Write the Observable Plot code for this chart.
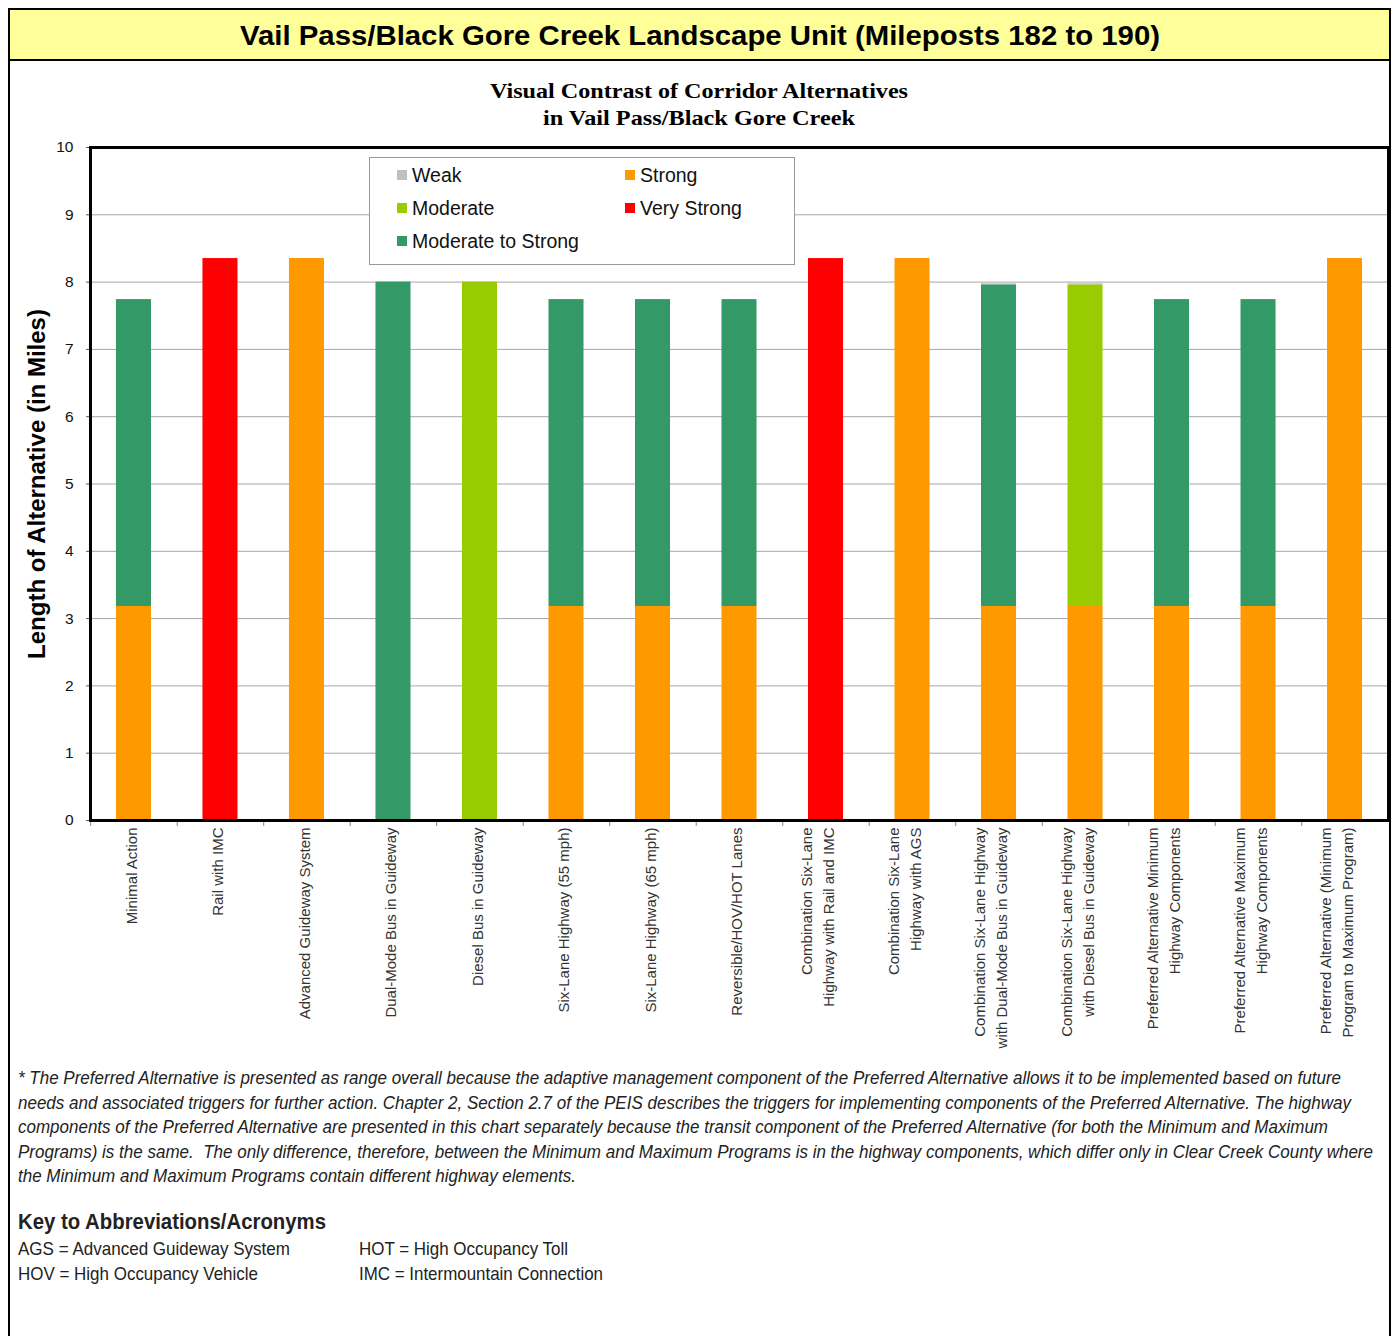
<!DOCTYPE html>
<html>
<head>
<meta charset="utf-8">
<script src="https://cdn.jsdelivr.net/npm/d3@7"></script>
<script src="https://cdn.jsdelivr.net/npm/@observablehq/plot@0.6"></script>
<style>
  html, body { margin: 0; padding: 0; background: #fff; }
  body { width: 1395px; height: 1336px; position: relative; overflow: hidden; font-family: "Liberation Sans", Arial, sans-serif; }
  #outer { position: absolute; left: 8px; top: 8px; width: 1379px; height: 1400px; border: 2px solid #000; box-sizing: content-box; }
  #titlebar { position: absolute; left: 10px; top: 10px; width: 1379px; height: 49px; background: #ffff99; border-bottom: 2px solid #000; }
  .fit { position: absolute; display: inline-block; white-space: pre; line-height: 1; transform-origin: 0 0; }
  #chart { position: absolute; left: 0; top: 140px; }
  #legend { position: absolute; left: 369px; top: 157px; width: 424px; height: 106px; background: #fff; border: 1px solid #9a9a9a; }
  .li { position: absolute; font-size: 19.5px; color: #111; white-space: pre; line-height: 1; }
  .sw { position: absolute; width: 10px; height: 10px; }
</style>
</head>
<body>
<div id="outer"></div>
<div id="titlebar"></div>
<div id="chart"></div>
<div id="legend"></div>
<div id="texts"></div>
<script>
// ---------- data ----------
const alternatives = [
  "Minimal Action",
  "Rail with IMC",
  "Advanced Guideway System",
  "Dual-Mode Bus in Guideway",
  "Diesel Bus in Guideway",
  "Six-Lane Highway (55 mph)",
  "Six-Lane Highway (65 mph)",
  "Reversible/HOV/HOT Lanes",
  "Combination Six-Lane\nHighway with Rail and IMC",
  "Combination Six-Lane\nHighway with AGS",
  "Combination Six-Lane Highway\nwith Dual-Mode Bus in Guideway",
  "Combination Six-Lane Highway\nwith Diesel Bus in Guideway",
  "Preferred Alternative Minimum\nHighway Components",
  "Preferred Alternative Maximum\nHighway Components",
  "Preferred Alternative (Minimum\nProgram to Maximum Program)"
];
const levels = ["Strong", "Very Strong", "Moderate to Strong", "Moderate", "Weak"];
const levelColors = ["#ff9900", "#ff0000", "#339966", "#99cc00", "#c0c0c0"];
const strong       = [3.18, 0, 8.35, 0, 0, 3.18, 3.18, 3.18, 0, 8.35, 3.18, 3.18, 3.18, 3.18, 8.35];
const veryStrong   = [0, 8.35, 0, 0, 0, 0, 0, 0, 8.35, 0, 0, 0, 0, 0, 0];
const modToStrong  = [4.56, 0, 0, 8.0, 0, 4.56, 4.56, 4.56, 0, 0, 4.78, 0, 4.56, 4.56, 0];
const moderate     = [0, 0, 0, 0, 8.0, 0, 0, 0, 0, 0, 0, 4.78, 0, 0, 0];
const weak         = [0, 0, 0, 0, 0, 0, 0, 0, 0, 0, 0.015, 0.015, 0, 0, 0];
const yTicks = [0, 1, 2, 3, 4, 5, 6, 7, 8, 9, 10];
const legendOrder = ["Weak", "Strong", "Moderate", "Very Strong", "Moderate to Strong"];

const titleText = "Vail Pass/Black Gore Creek Landscape Unit (Mileposts 182 to 190)";
const subtitle1 = "Visual Contrast of Corridor Alternatives";
const subtitle2 = "in Vail Pass/Black Gore Creek";
const yLabel = "Length of Alternative (in Miles)";
const footLines = [
  "* The Preferred Alternative is presented as range overall because the adaptive management component of the Preferred Alternative allows it to be implemented based on future",
  "needs and associated triggers for further action. Chapter 2, Section 2.7 of the PEIS describes the triggers for implementing components of the Preferred Alternative. The highway",
  "components of the Preferred Alternative are presented in this chart separately because the transit component of the Preferred Alternative (for both the Minimum and Maximum",
  "Programs) is the same.  The only difference, therefore, between the Minimum and Maximum Programs is in the highway components, which differ only in Clear Creek County where",
  "the Minimum and Maximum Programs contain different highway elements."
];
const keyTitle = "Key to Abbreviations/Acronyms";
const keyItems = ["AGS = Advanced Guideway System", "HOT = High Occupancy Toll", "HOV = High Occupancy Vehicle", "IMC = Intermountain Connection"];

// ---------- build rows ----------
const seriesByLevel = {"Strong": strong, "Very Strong": veryStrong, "Moderate to Strong": modToStrong, "Moderate": moderate, "Weak": weak};
const rows = [];
alternatives.forEach((alt, i) => {
  levels.forEach(lv => {
    const v = seriesByLevel[lv][i];
    if (v > 0) rows.push({alt, level: lv, value: v});
  });
});

// ---------- plot ----------
const W = 1395, H = 920, mL = 90, mR = 7, mT = 7, mB = 240;
const step = (W - mL - mR) / alternatives.length;
const multi = alternatives.filter(a => a.includes("\n"));
const single = alternatives.filter(a => !a.includes("\n"));

const chart = Plot.plot({
  width: W, height: H,
  marginLeft: mL, marginRight: mR, marginTop: mT, marginBottom: mB,
  style: {fontFamily: "'Liberation Sans', Arial, sans-serif", fontSize: "15px", background: "transparent", overflow: "visible"},
  x: {domain: alternatives, paddingInner: 0.595, paddingOuter: 0.3, round: false, axis: null},
  y: {domain: [0, 10], axis: null},
  color: {domain: levels, range: levelColors},
  marks: [
    Plot.gridY(yTicks.slice(1, -1), {stroke: "#a6a6a6", strokeOpacity: 1, strokeWidth: 1}),
    Plot.barY(rows, {x: "alt", y: "value", fill: "level", order: null}),
    Plot.axisY({ticks: yTicks, tickSize: 4, tickFormat: () => "", label: null, stroke: "#555"}),
    Plot.text(yTicks, {y: d => d, text: d => String(d), frameAnchor: "left", textAnchor: "end", dx: -17, fontSize: 15.5, fill: "#111"}),
    Plot.axisX({anchor: "bottom", tickSize: 6, tickFormat: () => "", dx: -step / 2, stroke: "#888", label: null}),
    Plot.text(single, {x: d => d, text: d => d, frameAnchor: "bottom", rotate: -90, textAnchor: "end", lineAnchor: "middle", dy: 7, dx: -2, fontSize: 15, fill: "#333"}),
    Plot.text(multi, {x: d => d, text: d => d, frameAnchor: "bottom", rotate: -90, textAnchor: "end", lineAnchor: "middle", lineHeight: 1.47, dy: 7, dx: -10, fontSize: 15, fill: "#333"}),
    Plot.text([yLabel], {text: d => d, frameAnchor: "left", textAnchor: "middle", lineAnchor: "middle", rotate: -90, dx: -53, fontSize: 24, fontWeight: "bold", fill: "#000"}),
    Plot.frame({stroke: "#000", strokeWidth: 3})
  ]
});
document.getElementById("chart").appendChild(chart);

// ---------- legend ----------
const legend = document.getElementById("legend");
const legPos = {"Weak": [0, 0], "Strong": [1, 0], "Moderate": [0, 1], "Very Strong": [1, 1], "Moderate to Strong": [0, 2]};
legendOrder.forEach(lv => {
  const [c, r] = legPos[lv];
  const x0 = c === 0 ? 27 : 255;
  const cy = 17 + r * 33;
  const sw = document.createElement("div");
  sw.className = "sw";
  sw.style.left = x0 + "px";
  sw.style.top = (cy - 5) + "px";
  sw.style.background = levelColors[levels.indexOf(lv)];
  legend.appendChild(sw);
  const t = document.createElement("div");
  t.className = "li";
  t.textContent = lv;
  t.style.left = (x0 + 15) + "px";
  t.style.top = (cy - 0.47 * 19.5) + "px";
  legend.appendChild(t);
});

// ---------- texts ----------
const texts = document.getElementById("texts");
const fitList = [];
function addText(str, {x, baseline, width, size, weight = "normal", style = "normal", family = "'Liberation Sans', Arial, sans-serif", color = "#000", asc = 0.8465}) {
  const d = document.createElement("div");
  d.className = "fit";
  d.textContent = str;
  d.style.left = x + "px";
  d.style.top = (baseline - asc * size) + "px";
  d.style.fontSize = size + "px";
  d.style.fontWeight = weight;
  d.style.fontStyle = style;
  d.style.fontFamily = family;
  d.style.color = color;
  texts.appendChild(d);
  fitList.push([d, width]);
}
addText(titleText, {x: 240, baseline: 45.5, width: 920, size: 28, weight: "bold"});
const serif = "'Liberation Serif', 'Times New Roman', serif";
addText(subtitle1, {x: 490, baseline: 98, width: 418, size: 22, weight: "bold", family: serif, asc: 0.8375});
addText(subtitle2, {x: 543, baseline: 125, width: 312, size: 22, weight: "bold", family: serif, asc: 0.8375});
const footWidths = [1323, 1333, 1310, 1355, 558];
const footBase = [1084, 1109, 1133, 1158, 1182];
footLines.forEach((s, i) => addText(s, {x: 18, baseline: footBase[i], width: footWidths[i], size: 19, style: "italic", color: "#222"}));
addText(keyTitle, {x: 18, baseline: 1230, width: 308, size: 22, weight: "bold", color: "#222"});
const keyX = [18, 359, 18, 359];
const keyBase = [1255, 1255, 1280, 1280];
const keyW = [272, 209, 240, 244];
keyItems.forEach((s, i) => addText(s, {x: keyX[i], baseline: keyBase[i], width: keyW[i], size: 19, color: "#222"}));

function fit() {
  fitList.forEach(([d, w]) => {
    d.style.transform = "none";
    const nat = d.getBoundingClientRect().width;
    if (nat > 0) d.style.transform = `scaleX(${w / nat})`;
  });
}
fit();
if (document.fonts && document.fonts.ready) document.fonts.ready.then(fit);
</script>
</body>
</html>
